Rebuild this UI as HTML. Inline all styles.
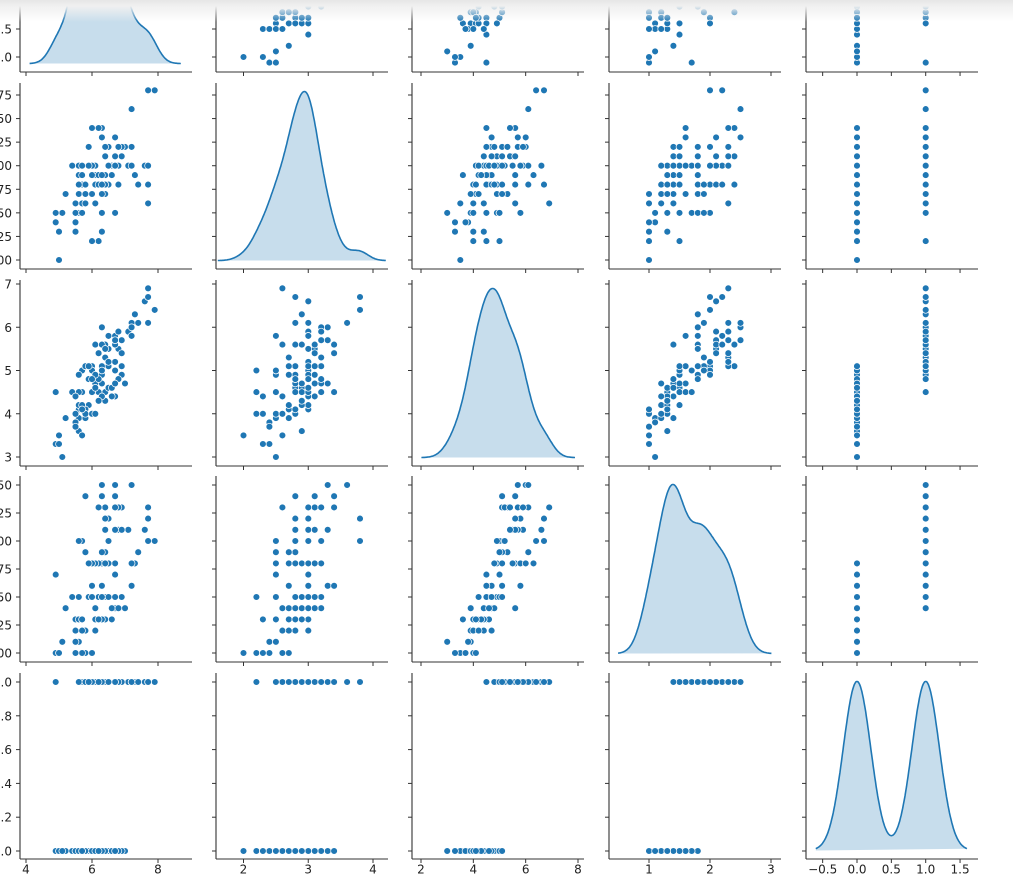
<!DOCTYPE html>
<html><head><meta charset="utf-8"><style>
html,body{margin:0;padding:0;background:#fff;width:1013px;height:875px;overflow:hidden}
svg{display:block;font-family:"DejaVu Sans","Liberation Sans",sans-serif}
#shadow{position:absolute;left:0;top:0;width:1013px;height:22px;background:linear-gradient(#e6e6e6 0,#f0f0f0 6px,rgba(255,255,255,0) 22px)}
</style></head><body>
<svg id="chart" width="1013" height="875" viewBox="0 0 1013 875"></svg>
<div id="shadow"></div>
<script>
const sepalLength=[7.0,6.4,6.9,5.5,6.5,5.7,6.3,4.9,6.6,5.2,5.0,5.9,6.0,6.1,5.6,6.7,5.6,5.8,6.2,5.6,5.9,6.1,6.3,6.1,6.4,6.6,6.8,6.7,6.0,5.7,5.5,5.5,5.8,6.0,5.4,6.0,6.7,6.3,5.6,5.5,5.5,6.1,5.8,5.0,5.6,5.7,5.7,6.2,5.1,5.7,
6.3,5.8,7.1,6.3,6.5,7.6,4.9,7.3,6.7,7.2,6.5,6.4,6.8,5.7,5.8,6.4,6.5,7.7,7.7,6.0,6.9,5.6,7.7,6.3,6.7,7.2,6.2,6.1,6.4,7.2,7.4,7.9,6.4,6.3,6.1,7.7,6.3,6.4,6.0,6.9,6.7,6.9,5.8,6.8,6.7,6.7,6.3,6.5,6.2,5.9];
const sepalWidth=[3.2,3.2,3.1,2.3,2.8,2.8,3.3,2.4,2.9,2.7,2.0,3.0,2.2,2.9,2.9,3.1,3.0,2.7,2.2,2.5,3.2,2.8,2.5,2.8,2.9,3.0,2.8,3.0,2.9,2.6,2.4,2.4,2.7,2.7,3.0,3.4,3.1,2.3,3.0,2.5,2.6,3.0,2.6,2.3,2.7,3.0,2.9,2.9,2.5,2.8,
3.3,2.7,3.0,2.9,3.0,3.0,2.5,2.9,2.5,3.6,3.2,2.7,3.0,2.5,2.8,3.2,3.0,3.8,2.6,2.2,3.2,2.8,2.8,2.7,3.3,3.2,2.8,3.0,2.8,3.0,2.8,3.8,2.8,2.8,2.6,3.0,3.4,3.1,3.0,3.1,3.1,3.1,2.7,3.2,3.3,3.0,2.5,3.0,3.4,3.0];
const petalLength=[4.7,4.5,4.9,4.0,4.6,4.5,4.7,3.3,4.6,3.9,3.5,4.2,4.0,4.7,3.6,4.4,4.5,4.1,4.5,3.9,4.8,4.0,4.9,4.7,4.3,4.4,4.8,5.0,4.5,3.5,3.8,3.7,3.9,5.1,4.5,4.5,4.7,4.4,4.1,4.0,4.4,4.6,4.0,3.3,4.2,4.2,4.2,4.3,3.0,4.1,
6.0,5.1,5.9,5.6,5.8,6.6,4.5,6.3,5.8,6.1,5.1,5.3,5.5,5.0,5.1,5.3,5.5,6.7,6.9,5.0,5.7,4.9,6.7,4.9,5.7,6.0,4.8,4.9,5.6,5.8,6.1,6.4,5.6,5.1,5.6,6.1,5.6,5.5,4.8,5.4,5.6,5.1,5.1,5.9,5.7,5.2,5.0,5.2,5.4,5.1];
const petalWidth=[1.4,1.5,1.5,1.3,1.5,1.3,1.6,1.0,1.3,1.4,1.0,1.5,1.0,1.4,1.3,1.4,1.5,1.0,1.5,1.1,1.8,1.3,1.5,1.2,1.3,1.4,1.4,1.7,1.5,1.0,1.1,1.0,1.2,1.6,1.5,1.6,1.5,1.3,1.3,1.3,1.2,1.4,1.2,1.0,1.3,1.2,1.3,1.3,1.1,1.3,
2.5,1.9,2.1,1.8,2.2,2.1,1.7,1.8,1.8,2.5,2.0,1.9,2.1,2.0,2.4,2.3,1.8,2.2,2.3,1.5,2.3,2.0,2.0,1.8,2.1,1.8,1.8,1.8,2.1,1.6,1.9,2.0,2.2,1.5,1.4,2.3,2.4,1.8,1.8,2.1,2.4,2.3,1.9,2.3,2.5,2.3,1.9,2.0,2.3,1.8];
const target=Array.from({length:100},(_,i)=>i<50?0:1);
const xTickVals=[[4,6,8],[2,3,4],[2,4,6,8],[1,2,3],[-0.5,0,0.5,1,1.5]];
const xTickLabels=[["4","6","8"],["2","3","4"],["2","4","6","8"],["1","2","3"],["−0.5","0.0","0.5","1.0","1.5"]];
const yTickVals=[[4.5,5,5.5,6,6.5,7,7.5,8],[2,2.25,2.5,2.75,3,3.25,3.5,3.75],[3,4,5,6,7],[1,1.25,1.5,1.75,2,2.25,2.5],[0,0.2,0.4,0.6,0.8,1]];
const yTickLabels=[["4.5","5.0","5.5","6.0","6.5","7.0","7.5","8.0"],["2.00","2.25","2.50","2.75","3.00","3.25","3.50","3.75"],["3","4","5","6","7"],["1.00","1.25","1.50","1.75","2.00","2.25","2.50"],["0.0","0.2","0.4","0.6","0.8","1.0"]];

const vars=[sepalLength,sepalWidth,petalLength,petalWidth,target];
const colLeft=[20,216,412,609,806], colW=172;
const rowTop=[-114,83,280,476,673], rowH=186;
// axis anchors: [value0, pixel0, value1, pixel1]
const xAnch=[[4,26,8,158],[2,243.5,4,373],[2,421,8,578],[1,649,3,771],[0,857,1,925.7]];
const yAnch=[[5,57,5.5,29],[2,260,3.75,95],[3,457,7,284],[1,653,2.5,485],[0,851,1,682]];
function lin(a){return v=>a[1]+(v-a[0])*(a[3]-a[1])/(a[2]-a[0]);}
const xs=xAnch.map(lin), ys=yAnch.map(lin);
const C="#1f77b4", AX="#333";
const svg=document.getElementById('chart');
const NS="http://www.w3.org/2000/svg";
function mk(t,at,p){const e=document.createElementNS(NS,t);for(const k in at)e.setAttribute(k,at[k]);(p||svg).appendChild(e);return e;}

function kde(d){
  const n=d.length,m=d.reduce((a,b)=>a+b)/n;
  const sd=Math.sqrt(d.reduce((a,b)=>a+(b-m)*(b-m),0)/(n-1));
  const bw=sd*Math.pow(n,-0.2);
  const lo=Math.min(...d)-3*bw,hi=Math.max(...d)+3*bw,pts=[];
  for(let k=0;k<=200;k++){const x=lo+(hi-lo)*k/200;let s=0;for(const v of d)s+=Math.exp(-0.5*((x-v)/bw)**2);pts.push([x,s/(n*bw*Math.sqrt(2*Math.PI))]);}
  return pts;
}

for(let i=0;i<5;i++){for(let j=0;j<5;j++){
  const L=colLeft[j],T=rowTop[i],B=T+rowH,R=L+colW;
  const g=mk('g',{});
  
  
  const cid='clip'+i+j;
  const cp=mk('clipPath',{id:cid},g);mk('rect',{x:L,y:T,width:colW,height:rowH},cp);
  const marks=mk('g',{'clip-path':'url(#'+cid+')'},g);
  if(i===j){
    const pts=kde(vars[j]);const ymax=Math.max(...pts.map(p=>p[1]));
    const y0=B-rowH*0.05/1.1, yTop=T+rowH*0.05/1.1;
    const yk=v=>y0-(v/ymax)*(y0-yTop);
    let d='M'+xs[j](pts[0][0]).toFixed(1)+','+yk(0).toFixed(1);
    pts.forEach(p=>d+='L'+xs[j](p[0]).toFixed(1)+','+yk(p[1]).toFixed(1));
    const line=pts.map((p,k)=>(k?'L':'M')+xs[j](p[0]).toFixed(1)+','+yk(p[1]).toFixed(1)).join('');
    const f=mk('path',{d:d+'Z',fill:C,'fill-opacity':0.25,stroke:'none'},marks);
    
    
    const l=mk('path',{d:line,fill:'none',stroke:C,'stroke-width':1.6},marks);
    
    
  } else {
    for(let k=0;k<100;k++){
      const c=mk('circle',{cx:xs[j](vars[j][k]).toFixed(1),cy:ys[i](vars[i][k]).toFixed(1),r:3.4,fill:C,stroke:'#fff','stroke-width':0.7},marks);
      
      
    }
  }
  // spines
  mk('line',{x1:L,y1:T,x2:L,y2:B,stroke:AX,'stroke-width':1.1},g);
  mk('line',{x1:L,y1:B,x2:R,y2:B,stroke:AX,'stroke-width':1.1},g);
  // y ticks
  yTickVals[i].forEach((v,k)=>{const y=ys[i](v);if(y<T+1||y>B-1)return;
    mk('line',{x1:L-4,y1:y,x2:L,y2:y,stroke:AX,'stroke-width':1},g);
    if(j===0){const t=mk('text',{x:12,y:y+4.5,'text-anchor':'end','font-size':12,fill:'#222'},g);t.textContent=yTickLabels[i][k];
      
      }
  });
  xTickVals[j].forEach((v,k)=>{const x=xs[j](v);
    mk('line',{x1:x,y1:B,x2:x,y2:B+4,stroke:AX,'stroke-width':1},g);
    if(i===4){const t=mk('text',{x:x,y:B+14.5,'text-anchor':'middle','font-size':12,fill:'#222'},g);t.textContent=xTickLabels[j][k];
      
      }
  });
}}
</script>
</body></html>
